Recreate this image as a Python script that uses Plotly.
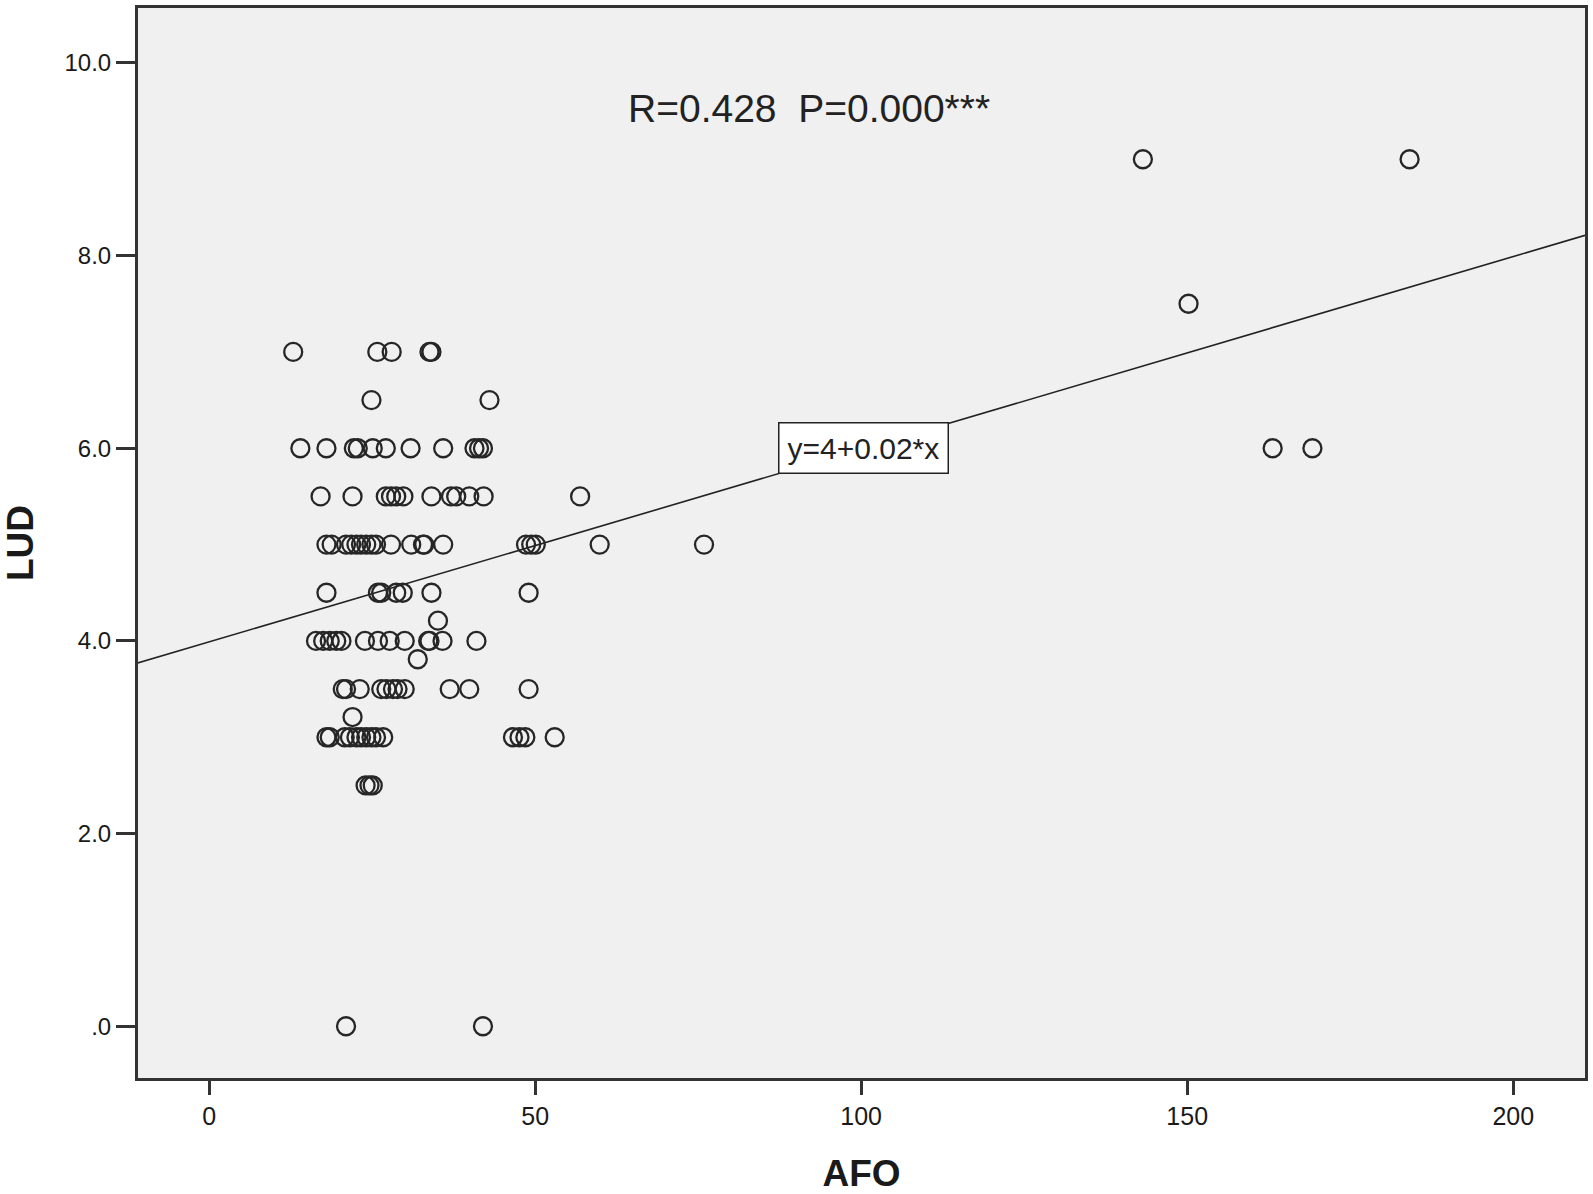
import plotly.graph_objects as go

# AFO (x) and LUD (y) values, one row of LUD at a time
afo = [
    12.9, 25.8, 28.0, 33.8, 34.1,
    24.9, 43.0,
    14.0, 18.0, 22.2, 22.8, 25.1, 27.1, 30.9, 35.9, 40.7, 41.4, 42.0, 163.1, 169.2,
    17.1, 22.0, 27.1, 27.9, 28.7, 29.8, 34.1, 37.1, 37.9, 39.9, 42.1, 56.9,
    18.0, 18.8, 21.0, 21.8, 22.6, 23.3, 24.1, 24.9, 25.6, 27.9, 31.0, 32.8, 33.0, 35.9,
    48.6, 49.4, 50.1, 59.9, 75.9,
    18.0, 25.9, 26.4, 28.7, 29.7, 34.1, 49.0,
    35.1,
    16.4, 17.5, 18.5, 19.5, 20.3, 23.9, 25.9, 27.7, 30.0, 33.6, 33.8, 35.8, 41.0,
    32.0,
    20.5, 21.0, 23.1, 26.4, 27.2, 28.2, 28.9, 30.0, 36.9, 39.9, 49.0,
    22.0,
    18.0, 18.5, 20.8, 21.6, 22.6, 23.3, 24.1, 24.9, 25.6, 26.7, 46.6, 47.6, 48.5, 53.0,
    24.0, 24.6, 25.1,
    21.0, 42.0,
    143.2, 184.1, 150.2,
]
lud = (
    [7.0] * 5
    + [6.5] * 2
    + [6.0] * 13
    + [5.5] * 12
    + [5.0] * 19
    + [4.5] * 7
    + [4.21]
    + [4.0] * 13
    + [3.81]
    + [3.5] * 11
    + [3.21]
    + [3.0] * 14
    + [2.5] * 3
    + [0.0] * 2
    + [9.0, 9.0, 7.5]
)

# fitted line y = a + b*x and its stats
intercept = 3.99
slope = 0.02
fit_x = [-11, 211]
stats_text = "R=0.428  P=0.000***"
fit_text = "y=4+0.02*x"

fig = go.Figure()

fig.add_trace(go.Scatter(
    x=fit_x, y=[intercept + slope * v for v in fit_x],
    mode='lines', line=dict(color='#222222', width=1.6),
    showlegend=False, hoverinfo='skip'))

fig.add_trace(go.Scatter(
    x=afo, y=lud, mode='markers',
    marker=dict(symbol='circle-open', size=18, color='#262626',
                line=dict(width=2.3, color='#262626')),
    showlegend=False))

fig.add_annotation(x=92, y=9.53, text=stats_text, showarrow=False,
                   font=dict(family='Liberation Sans, Arial', size=39, color='#222222'))
fig.add_annotation(x=100.4, y=6.0, text=fit_text, showarrow=False,
                   font=dict(family='Liberation Sans, Arial', size=30, color='#222222'),
                   bgcolor='white', bordercolor='#222222', borderwidth=1.5, borderpad=8)

fig.update_layout(
    width=1593, height=1194,
    paper_bgcolor='white', plot_bgcolor='#F0F0F0',
    margin=dict(l=138, r=6, t=5, b=116),
    font=dict(family='Liberation Sans, Arial', color='#1a1a1a'),
    xaxis=dict(range=[-10.9, 211], tickvals=[0, 50, 100, 150, 200],
               ticks='outside', ticklen=14, tickwidth=3, tickcolor='#333333',
               ticklabelstandoff=0,
               showline=True, linecolor='#333333', linewidth=2.5, mirror=True,
               showgrid=False, zeroline=False,
               tickfont=dict(size=25),
               title=dict(text='<b>AFO</b>', font=dict(size=37), standoff=33)),
    yaxis=dict(range=[-0.537, 10.57], tickvals=[0, 2, 4, 6, 8, 10],
               ticktext=['.0', '2.0', '4.0', '6.0', '8.0', '10.0'],
               ticks='outside', ticklen=19, tickwidth=2.5, tickcolor='#333333',
               showline=True, linecolor='#333333', linewidth=3, mirror=True,
               showgrid=False, zeroline=False,
               tickfont=dict(size=24),
               title=dict(text='<b>LUD</b>', font=dict(size=37), standoff=30)),
)

fig.write_html("out.html", config={'displayModeBar': False},
               post_script="document.body.style.margin='0';")
